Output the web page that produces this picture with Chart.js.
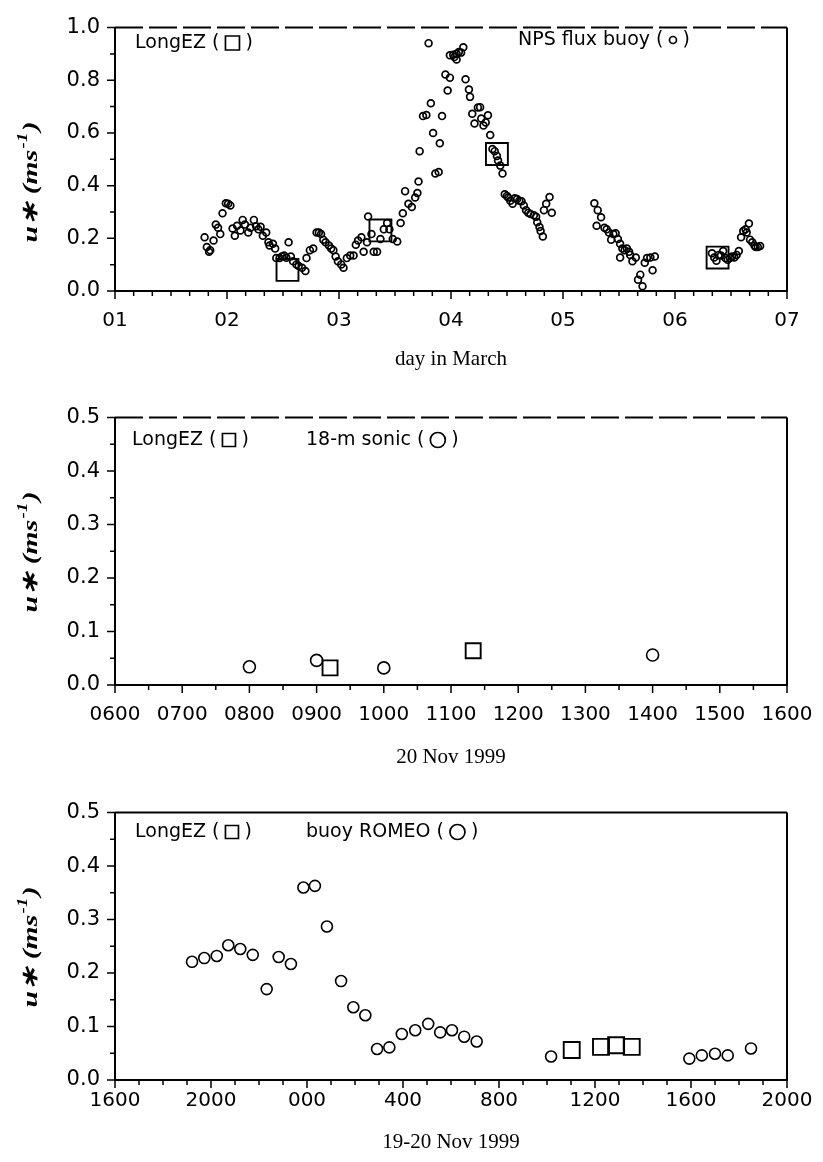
<!DOCTYPE html>
<html>
<head>
<meta charset="utf-8">
<script src="https://cdn.jsdelivr.net/npm/chart.js@4.4.1/dist/chart.umd.min.js"></script>
<style>
  html, body { margin: 0; padding: 0; background: #fff; }
  #wrap { position: relative; width: 823px; height: 1162px; }
  canvas { position: absolute; left: 0; }
</style>
</head>
<body>
<div id="wrap">
  <canvas id="c1" width="823" height="390" style="top:0"></canvas>
  <canvas id="c2" width="823" height="395" style="top:390px"></canvas>
  <canvas id="c3" width="823" height="377" style="top:785px"></canvas>
</div>
<script>
// --- panel 1: day in March ---
const buoyDay = [1.80,1.82,1.84,1.85,1.88,1.90,1.92,1.94,1.96,1.99,2.01,2.03,2.05,2.07,2.09,2.12,2.14,2.16,2.19,2.21,
  2.24,2.26,2.28,2.30,2.32,2.35,2.37,2.38,2.41,2.43,2.44,2.47,2.49,2.51,2.53,2.55,2.57,2.59,2.62,2.64,
  2.67,2.70,2.71,2.74,2.77,2.80,2.82,2.84,2.86,2.88,2.91,2.93,2.95,2.97,2.99,3.02,3.04,3.07,3.10,3.13,
  3.15,3.17,3.20,3.22,3.25,3.26,3.29,3.31,3.34,3.37,3.40,3.43,3.45,3.48,3.52,3.55,3.57,3.59,3.62,3.65,
  3.68,3.70,3.71,3.72,3.75,3.78,3.80,3.82,3.84,3.86,3.89,3.90,3.92,3.95,3.97,3.99,3.99,4.02,4.03,4.05,
  4.05,4.07,4.09,4.11,4.13,4.16,4.17,4.19,4.21,4.24,4.26,4.27,4.29,4.31,4.33,4.35,4.37,4.39,4.41,4.42,
  4.44,4.46,4.48,4.50,4.51,4.53,4.55,4.57,4.59,4.61,4.63,4.65,4.67,4.69,4.71,4.74,4.76,4.77,4.79,4.80,
  4.82,4.83,4.85,4.88,4.90,5.28,5.30,5.31,5.34,5.37,5.39,5.41,5.43,5.45,5.47,5.49,5.51,5.51,5.53,5.55,
  5.57,5.59,5.60,5.62,5.65,5.67,5.69,5.71,5.73,5.75,5.78,5.80,5.82,6.33,6.35,6.37,6.39,6.41,6.43,6.45,
  6.47,6.49,6.51,6.53,6.55,6.57,6.59,6.61,6.63,6.64,6.66,6.67,6.69,6.71,6.72,6.74,6.76];
const buoyUstar = [.204,.167,.149,.155,.192,.252,.240,.216,.295,.333,.331,.325,.237,.210,.248,.230,.270,.252,.222,.240,
  .270,.246,.234,.244,.210,.222,.185,.173,.179,.161,.125,.125,.131,.135,.126,.185,.131,.113,.101,.095,
  .088,.076,.125,.155,.161,.222,.222,.216,.195,.185,.173,.161,.155,.131,.113,.101,.088,.125,.135,.135,
  .176,.192,.204,.149,.185,.283,.216,.149,.149,.197,.234,.258,.234,.197,.188,.258,.295,.379,.331,.319,
  .355,.372,.416,.531,.664,.668,.941,.713,.600,.446,.452,.561,.664,.822,.761,.810,.895,.897,.888,.879,
  .901,.907,.905,.925,.804,.765,.737,.673,.636,.697,.698,.655,.628,.640,.667,.592,.539,.531,.513,.495,
  .476,.446,.367,.361,.355,.343,.331,.352,.349,.343,.341,.325,.307,.297,.292,.288,.282,.261,.243,.228,
  .207,.307,.331,.357,.297,.333,.248,.307,.280,.240,.234,.222,.195,.216,.219,.197,.179,.127,.161,.155,
  .161,.149,.137,.113,.127,.043,.062,.018,.107,.125,.127,.079,.131,.143,.127,.115,.137,.135,.152,.125,
  .119,.125,.131,.127,.137,.152,.204,.228,.234,.222,.256,.195,.185,.173,.167,.167,.171];
const ezDay = [2.54, 3.37, 4.41, 6.38];
const ezUstar = [0.08, 0.23, 0.52, 0.127];
const dayTicks = ['01', '02', '03', '04', '05', '06', '07'];

// --- panel 2: 20 Nov 1999 (hours) ---
const sonicHour = [8.0, 9.0, 10.0, 14.0];
const sonicUstar = [0.034, 0.046, 0.032, 0.056];
const ez2Hour = [9.2, 11.33];
const ez2Ustar = [0.032, 0.064];
const hourTicks2 = ['0600','0700','0800','0900','1000','1100','1200','1300','1400','1500','1600'];

// --- panel 3: 19-20 Nov 1999 (hours since 19 Nov 00:00) ---
const romeoHour = [19.21,19.72,20.24,20.72,21.22,21.74,22.32,22.82,23.33,23.85,24.33,24.83,25.42,25.93,26.43,26.92,27.43,27.95,
  28.51,29.05,29.55,30.04,30.55,31.07,34.17,39.93,40.45,41.0,41.53,42.5];
const romeoUstar = [.221,.228,.232,.252,.245,.234,.170,.230,.217,.360,.363,.287,.185,.136,.121,.058,.061,.086,
  .093,.105,.089,.093,.081,.072,.044,.040,.046,.049,.046,.059];
const ez3Hour = [35.03, 36.25, 36.88, 37.53];
const ez3Ustar = [0.056, 0.062, 0.065, 0.062];
const hourTicks3 = ['1600','2000','000','400','800','1200','1600','2000'];

const pts = (xs, ys) => xs.map((x, i) => ({ x, y: ys[i] }));
const XTICK_FONT = { family: '"DejaVu Sans", sans-serif', size: 20 };
const YTICK_FONT = { family: '"DejaVu Sans", sans-serif', size: 21 };
const TITLE_FONT = { family: '"Liberation Serif", "Times New Roman", serif', size: 21 };

// box + outward tick marks (major longer than minor)
const frame = {
  id: 'frame',
  afterDraw(chart, args, o) {
    const { ctx, chartArea: a, scales: { x, y } } = chart;
    ctx.save();
    ctx.strokeStyle = '#000';
    ctx.lineWidth = 2;
    ctx.beginPath();
    ctx.moveTo(a.left, a.top); ctx.lineTo(a.left, a.bottom);
    ctx.lineTo(a.right, a.bottom); ctx.lineTo(a.right, a.top);
    ctx.stroke();
    ctx.setLineDash(o.topDash || []);
    ctx.beginPath(); ctx.moveTo(a.left, a.top); ctx.lineTo(a.right, a.top); ctx.stroke();
    ctx.setLineDash([]);
    ctx.lineWidth = 1.5;
    ctx.beginPath();
    const n = Math.round((x.max - x.min) / o.xMinor);
    for (let i = 0; i <= n; i++) {
      const px = x.getPixelForValue(x.min + i * o.xMinor);
      const len = i % o.xEvery === 0 ? 8 : 5;
      ctx.moveTo(px, a.bottom); ctx.lineTo(px, a.bottom + len);
    }
    const m = Math.round((y.max - y.min) / o.yMinor);
    for (let i = 0; i <= m; i++) {
      const py = y.getPixelForValue(y.min + i * o.yMinor);
      const len = i % o.yEvery === 0 ? 8 : 5;
      ctx.moveTo(a.left, py); ctx.lineTo(a.left - len, py);
    }
    ctx.stroke();
    ctx.restore();
  }
};

// legend-like labels inside the plot, and the rotated y title
const notes = {
  id: 'notes',
  afterDraw(chart, args, o) {
    const { ctx, chartArea: a } = chart;
    ctx.save();
    ctx.fillStyle = '#000';
    ctx.strokeStyle = '#000';
    ctx.textBaseline = 'middle';
    ctx.font = '19px "DejaVu Sans", sans-serif';
    o.items.forEach(it => {
      let x = it.x;
      const head = it.text + ' (';
      ctx.fillText(head, x, it.y);
      x += ctx.measureText(head).width + 6;
      ctx.lineWidth = 1.7;
      ctx.beginPath();
      if (it.sym === 'rect') ctx.rect(x, it.y - it.s / 2, it.s, it.s);
      else ctx.arc(x + it.s / 2, it.y, it.s / 2, 0, Math.PI * 2);
      ctx.stroke();
      x += it.s + 6;
      ctx.fillText(')', x, it.y);
    });
    // y title
    ctx.translate(o.tx, (a.top + a.bottom) / 2 + (o.ty || 0));
    ctx.rotate(-Math.PI / 2);
    ctx.scale(1.35, 1);
    const big = 'italic bold 22px "Liberation Serif", serif';
    const small = 'italic bold 14px "Liberation Serif", serif';
    const parts = [['u\u2217 (ms', big, 0], ['-1', small, -8], [')', big, 0]];
    let w = 0;
    parts.forEach(p => { ctx.font = p[1]; w += ctx.measureText(p[0]).width + 1; });
    let cx = -w / 2;
    parts.forEach(p => {
      ctx.font = p[1];
      ctx.fillText(p[0], cx, p[2]);
      cx += ctx.measureText(p[0]).width + 1;
    });
    ctx.restore();
  }
};

function makeChart(id, cfg) {
  return new Chart(document.getElementById(id), {
    type: 'scatter',
    data: { datasets: cfg.datasets },
    options: {
      responsive: false,
      animation: false,
      events: [],
      layout: { padding: { top: cfg.top, right: 36, left: 0, bottom: 0 } },
      plugins: {
        legend: { display: false },
        tooltip: { enabled: false },
        frame: cfg.frame,
        notes: cfg.notes
      },
      scales: {
        x: {
          type: 'linear',
          min: cfg.xMin, max: cfg.xMax,
          grid: { display: false, drawTicks: false },
          border: { display: false },
          afterFit: s => { s.height = cfg.xHeight; s.paddingLeft = 0; s.paddingRight = 0; },
          afterBuildTicks: s => {
            s.ticks = cfg.xLabels.map((_, i) => ({ value: cfg.xMin + i * cfg.xStep }));
          },
          ticks: {
            autoSkip: false, maxRotation: 0, color: '#000', font: XTICK_FONT, padding: cfg.xPad,
            callback: (v, i) => cfg.xLabels[i]
          },
          title: {
            display: true, text: cfg.xTitle, color: '#000', font: TITLE_FONT,
            padding: { top: 0, bottom: cfg.titlePad }
          }
        },
        y: {
          min: 0, max: cfg.yMax,
          grid: { display: false, drawTicks: false },
          border: { display: false },
          afterFit: s => { s.width = 115; },
          ticks: {
            stepSize: cfg.yStep, color: '#000', font: YTICK_FONT, padding: 15,
            callback: v => v.toFixed(1)
          }
        }
      }
    },
    plugins: [frame, notes]
  });
}

const circ = (data, r, bw) => ({
  data, pointStyle: 'circle', pointRadius: r, borderColor: '#000',
  backgroundColor: 'rgba(0,0,0,0)', borderWidth: bw, showLine: false
});
const sq = (data, r) => ({
  data, pointStyle: 'rect', pointRadius: r, borderColor: '#000',
  backgroundColor: 'rgba(0,0,0,0)', borderWidth: 1.9, showLine: false
});

makeChart('c1', {
  datasets: [circ(pts(buoyDay, buoyUstar), 3.4, 1.7), sq(pts(ezDay, ezUstar), 15.5)],
  top: 16, xMin: 1, xMax: 7, xStep: 1, xLabels: dayTicks, xHeight: 99, xPad: 18,
  xTitle: 'day in March', titlePad: 18, yMax: 1.0, yStep: 0.2,
  frame: { xMinor: 1 / 6, xEvery: 6, yMinor: 0.1, yEvery: 2, topDash: [28, 6] },
  notes: { tx: 31, ty: 22, items: [
    { text: 'LongEZ', sym: 'rect', s: 14, x: 135, y: 43 },
    { text: 'NPS flux buoy', sym: 'circle', s: 7, x: 518, y: 40 }
  ] }
});

makeChart('c2', {
  datasets: [circ(pts(sonicHour, sonicUstar), 6, 1.6), sq(pts(ez2Hour, ez2Ustar), 10.6)],
  top: 23, xMin: 6, xMax: 16, xStep: 1, xLabels: hourTicks2, xHeight: 100, xPad: 18,
  xTitle: '20 Nov 1999', titlePad: 15, yMax: 0.5, yStep: 0.1,
  frame: { xMinor: 0.5, xEvery: 2, yMinor: 0.05, yEvery: 2, topDash: [28, 6] },
  notes: { tx: 31, ty: 0, items: [
    { text: 'LongEZ', sym: 'rect', s: 13, x: 132, y: 50 },
    { text: '18-m sonic', sym: 'circle', s: 15, x: 306, y: 50 }
  ] }
});

makeChart('c3', {
  datasets: [circ(pts(romeoHour, romeoUstar), 5.5, 1.6), sq(pts(ez3Hour, ez3Ustar), 11.3)],
  top: 22, xMin: 16, xMax: 44, xStep: 4, xLabels: hourTicks3, xHeight: 82, xPad: 9,
  xTitle: '19-20 Nov 1999', titlePad: 7, yMax: 0.5, yStep: 0.1,
  frame: { xMinor: 1, xEvery: 4, yMinor: 0.05, yEvery: 2 },
  notes: { tx: 31, ty: 0, items: [
    { text: 'LongEZ', sym: 'rect', s: 13, x: 135, y: 47 },
    { text: 'buoy ROMEO', sym: 'circle', s: 15, x: 306, y: 47 }
  ] }
});
</script>
</body>
</html>
